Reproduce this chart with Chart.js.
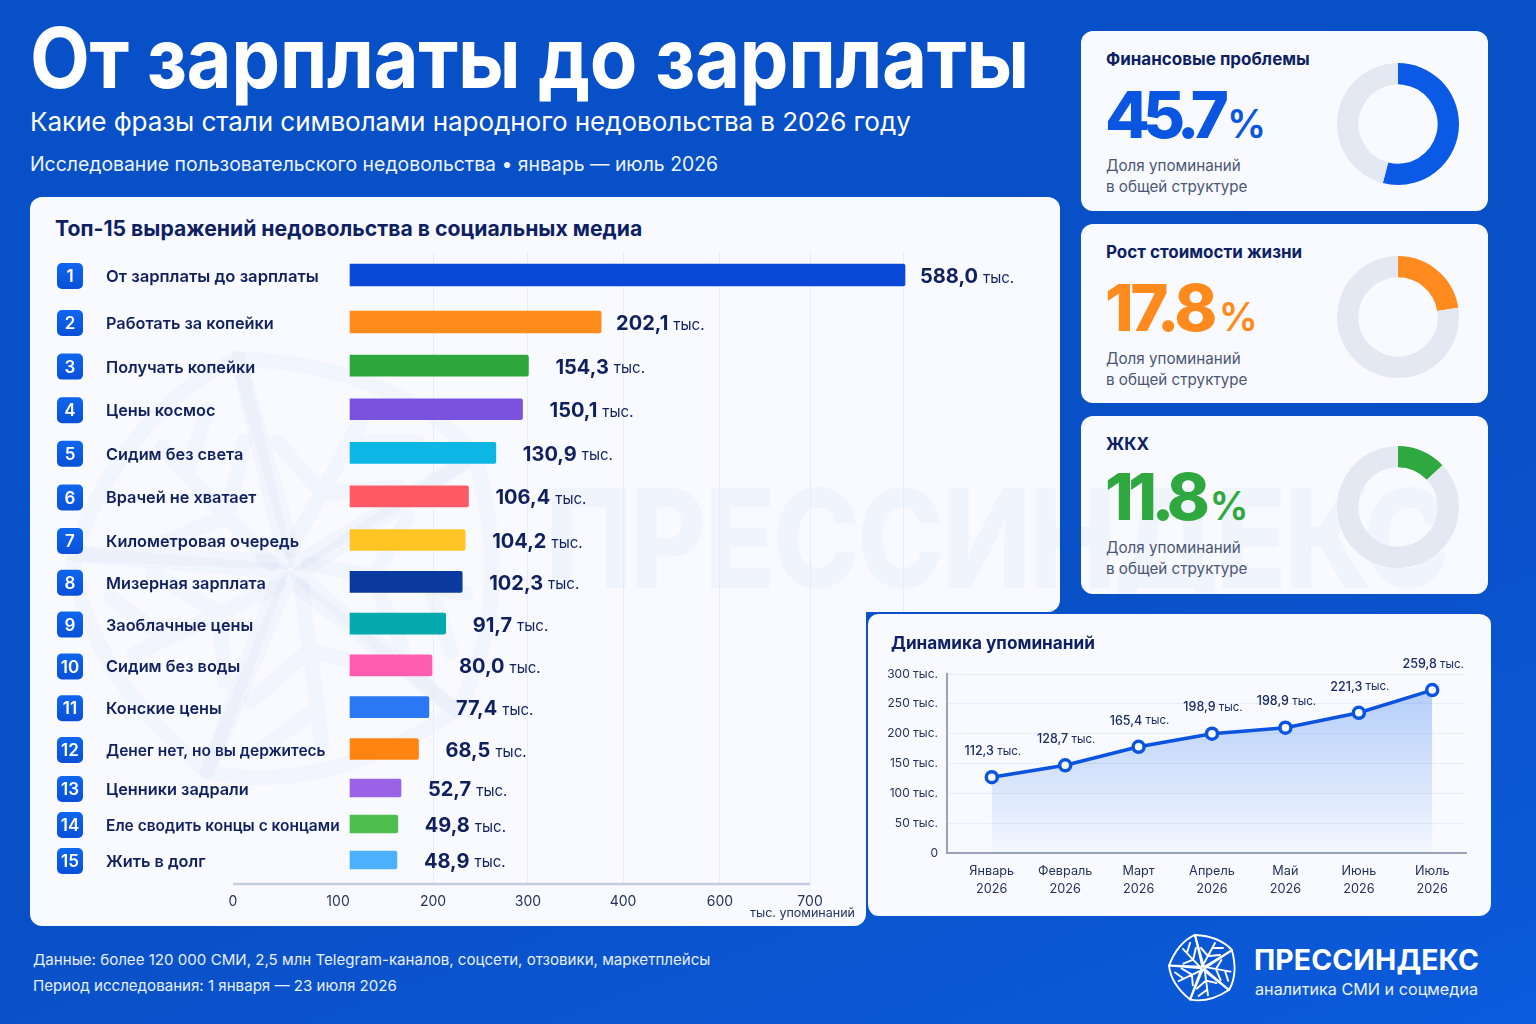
<!DOCTYPE html>
<html lang="ru">
<head>
<meta charset="utf-8">
<title>От зарплаты до зарплаты</title>
<script src="https://cdn.jsdelivr.net/npm/chart.js@4/dist/chart.umd.js"></script>
<style>
html, body { margin: 0; padding: 0; }
body { width: 1536px; height: 1024px; overflow: hidden; position: relative; font-family: Inter, "Noto Sans", sans-serif;
  background: linear-gradient(160deg, #0750c8 0%, #0950c6 60%, #0b5bdc 100%); }
.abs { position: absolute; white-space: nowrap; }
.card { position: absolute; background: #f8faff; border-radius: 12px; }
canvas { position: absolute; }
h1 { margin: 0; left: 30px; top: 6px; font-size: 84px; line-height: 104px; font-weight: 700; color: #fff; letter-spacing: -0.5px;
  transform: scaleX(.926); transform-origin: left center; }
.sub { left: 30px; top: 104px; font-size: 26.1px; line-height: 36px; color: #fff; letter-spacing: -0.1px; }
.sub2 { left: 30px; top: 151px; font-size: 19.4px; line-height: 26px; color: #eef4ff; }
.title { color: #0e1f63; font-weight: 700; }
.kpi-t { left: 1106px; font-size: 17px; line-height: 22px; font-weight: 700; color: #0e1f63; }
.kpi-v { left: 1105px; font-size: 65px; line-height: 70px; font-weight: 800; }
.kpi-v span { font-size: 39px; font-weight: 600; letter-spacing: 0; margin-left: 5px; }
.kpi-n { left: 1106px; font-size: 15.2px; line-height: 20.5px; color: #4b5675; }
.foot { left: 33px; font-size: 15.1px; line-height: 22px; color: #e6efff; }
.wm-text { left: 545px; top: 458px; font-size: 137px; line-height: 160px; font-weight: 800; color: rgba(20,80,200,.035);
  letter-spacing: -3px; transform: scaleX(.855); transform-origin: left center; }
</style>
</head>
<body>
<svg width="0" height="0" style="position:absolute">
  <defs>
    <g id="petal" fill="none" stroke-linecap="round" stroke-linejoin="round">
      <path d="M-8 -33 Q16 -32 29 -18 L1 -1 Z"/>
      <path d="M0 -3 L12 -25 M5 -12 L-2 -20 M6 -12 L17 -13 M10 -20 L20 -20"/>
    </g>
    <g id="logo">
      <use href="#petal"/>
      <use href="#petal" transform="rotate(72)"/>
      <use href="#petal" transform="rotate(144)"/>
      <use href="#petal" transform="rotate(216)"/>
      <use href="#petal" transform="rotate(288)"/>
    </g>
  </defs>
</svg>

<h1 class="abs">От зарплаты до зарплаты</h1>
<div class="abs sub">Какие фразы стали символами народного недовольства в 2026 году</div>
<div class="abs sub2">Исследование пользовательского недовольства • январь — июль 2026</div>

<div class="card" style="left:30px;top:197px;width:1030px;height:415px"></div>
<div class="card" style="left:30px;top:400px;width:836px;height:526px"></div>
<div class="card" style="left:1081px;top:31px;width:407px;height:180px"></div>
<div class="card" style="left:1081px;top:224px;width:407px;height:179px"></div>
<div class="card" style="left:1081px;top:416px;width:407px;height:178px"></div>

<svg class="abs" style="left:0;top:0" width="1536" height="1024">
  <use href="#logo" transform="translate(290 570) scale(6.4)" stroke="rgba(20,80,200,.028)" stroke-width="2.4"/>
</svg>
<div class="abs wm-text">ПРЕССИНДЕКС</div>

<div class="abs title" style="left:55px;top:214px;font-size:21.2px;line-height:28px">Топ-15 выражений недовольства в социальных медиа</div>
<canvas id="barChart" width="1030" height="686" style="left:30px;top:240px"></canvas>
<div class="abs" style="left:750px;top:905px;font-size:12.5px;line-height:16px;color:#26325c">тыс. упоминаний</div>

<div class="abs kpi-t" style="top:48px">Финансовые проблемы</div>
<div class="abs kpi-v" style="top:80px;color:#0a56e0;letter-spacing:-7px">45.7<span>%</span></div>
<div class="abs kpi-n" style="top:156px">Доля упоминаний<br>в общей структуре</div>
<canvas id="donut1" width="130" height="130" style="left:1333px;top:59px"></canvas>

<div class="abs kpi-t" style="top:241px">Рост стоимости жизни</div>
<div class="abs kpi-v" style="top:273px;color:#ff8a1e;letter-spacing:-3.5px">17.8<span>%</span></div>
<div class="abs kpi-n" style="top:349px">Доля упоминаний<br>в общей структуре</div>
<canvas id="donut2" width="130" height="130" style="left:1333px;top:252px"></canvas>

<div class="abs kpi-t" style="top:433px">ЖКХ</div>
<div class="abs kpi-v" style="top:462px;color:#2fa83f;letter-spacing:-5.5px">11.8<span>%</span></div>
<div class="abs kpi-n" style="top:538px">Доля упоминаний<br>в общей структуре</div>
<canvas id="donut3" width="130" height="130" style="left:1333px;top:442px"></canvas>

<div class="card" style="left:866px;top:612px;width:625px;height:304px;box-sizing:border-box;border:2px solid #0a50cf;border-right:0;border-bottom:0"></div>
<div class="abs title" style="left:891px;top:631px;font-size:17.2px;line-height:24px">Динамика упоминаний</div>
<canvas id="lineChart" width="624" height="303" style="left:867px;top:613px"></canvas>

<div class="abs foot" style="top:949px">Данные: более 120 000 СМИ, 2,5 млн Telegram-каналов, соцсети, отзовики, маркетплейсы</div>
<div class="abs foot" style="top:975px">Период исследования: 1 января — 23 июля 2026</div>

<svg class="abs" style="left:1160px;top:925px" width="86" height="86">
  <use href="#logo" transform="translate(43 43)" stroke="#fff" stroke-width="1.9"/>
</svg>
<div class="abs" style="left:1254px;top:942px;font-size:28.4px;line-height:36px;font-weight:700;color:#fff;letter-spacing:.1px">ПРЕССИНДЕКС</div>
<div class="abs" style="left:1255px;top:978px;font-size:16.2px;line-height:22px;color:#eaf2ff">аналитика СМИ и соцмедиа</div>

<script>
const phrases = ['От зарплаты до зарплаты', 'Работать за копейки', 'Получать копейки', 'Цены космос', 'Сидим без света',
  'Врачей не хватает', 'Километровая очередь', 'Мизерная зарплата', 'Заоблачные цены', 'Сидим без воды',
  'Конские цены', 'Денег нет, но вы держитесь', 'Ценники задрали', 'Еле сводить концы с концами', 'Жить в долг'];
const mentions = [588.0, 202.1, 154.3, 150.1, 130.9, 106.4, 104.2, 102.3, 91.7, 80.0, 77.4, 68.5, 52.7, 49.8, 48.9];
const barColors = ['#0a48d8', '#ff8c1a', '#2ea83c', '#7a52dd', '#0cb7e6', '#ff5a66', '#ffc524', '#0a3a9e',
  '#04a9ad', '#ff5cb0', '#2b78f5', '#ff8412', '#9b62e8', '#4cbf4f', '#4db0ff'];
const axisTicks = [0, 100, 200, 300, 400, 600, 700, 800];

const months = ['Январь', 'Февраль', 'Март', 'Апрель', 'Май', 'Июнь', 'Июль'];
const trendValues = [127, 147, 178, 200, 210, 235, 273];
const trendLabels = ['112,3', '128,7', '165,4', '198,9', '198,9', '221,3', '259,8'];

// drawn arc shares as they look in the picture, not the printed percentages
const shareFinance = [54, 46];
const shareLiving = [22.6, 77.4];
const shareHousing = [13, 87];

const navy = '#10205f';

// the axes of the reference are not linear, so both warped axes take stops [value, share of axis length]
function warp(stops, v) {
  for (let i = 1; i < stops.length; i++) {
    if (v <= stops[i][0] || i === stops.length - 1) {
      const a = stops[i - 1], b = stops[i];
      return a[1] + (v - a[0]) / (b[0] - a[0]) * (b[1] - a[1]);
    }
  }
}

class PiecewiseScale extends Chart.LinearScale {
  getPixelForValue(value) {
    return this.left + this.width * warp(this.options.stops, +value);
  }
}
PiecewiseScale.id = 'piecewise';
PiecewiseScale.defaults = Chart.LinearScale.defaults;

class RowScale extends Chart.CategoryScale {
  getPixelForValue(value) {
    const v = typeof value === 'number' ? value : this.parse(value);
    return this.top + this.height * warp(this.options.stops, v);
  }
}
RowScale.id = 'rows';
RowScale.defaults = Chart.CategoryScale.defaults;

Chart.register(PiecewiseScale, RowScale);

const barRows = {
  id: 'barRows',
  afterDatasetsDraw(chart) {
    const ctx = chart.ctx, y = chart.scales.y, x = chart.scales.x, x2 = chart.scales.x2;
    ctx.save();
    // axis line runs only between its first and last labelled tick
    ctx.strokeStyle = '#c6cde0';
    ctx.lineWidth = 2.5;
    ctx.beginPath();
    ctx.moveTo(x2.getPixelForValue(0), chart.chartArea.bottom);
    ctx.lineTo(x2.getPixelForValue(700), chart.chartArea.bottom);
    ctx.stroke();

    mentions.forEach((v, i) => {
      const py = y.getPixelForValue(i) + 1;
      // rank badge
      const grad = ctx.createLinearGradient(0, py - 13, 0, py + 13);
      grad.addColorStop(0, '#0f66ee');
      grad.addColorStop(1, '#0a50d8');
      ctx.fillStyle = grad;
      ctx.beginPath();
      ctx.roundRect(27, py - 13, 26, 26, 5);
      ctx.fill();
      ctx.fillStyle = '#fff';
      ctx.font = '600 17px Inter';
      ctx.textAlign = 'center';
      ctx.textBaseline = 'middle';
      ctx.fillText(String(i + 1), 40, py + 1);

      // value label next to the bar end
      const gap = i < 2 ? 15 : 27;
      const text = v.toFixed(1).replace('.', ',');
      const left = x.getPixelForValue(v) + gap;
      ctx.textAlign = 'left';
      ctx.fillStyle = navy;
      ctx.font = '700 20px Inter';
      ctx.fillText(text, left, py + 1);
      const w = ctx.measureText(text).width;
      ctx.font = '400 15px Inter';
      ctx.fillText('тыс.', left + w + 5, py + 2);
    });
    ctx.restore();
  }
};

function rowBars(from, to, thickness) {
  return {
    data: mentions.map((v, i) => (i >= from && i <= to ? v : null)),
    backgroundColor: barColors,
    borderRadius: 2,
    barThickness: thickness,
    grouped: false,
    xAxisID: 'x',
    yAxisID: 'y'
  };
}

new Chart(document.getElementById('barChart'), {
  type: 'bar',
  data: {
    labels: phrases,
    datasets: [rowBars(0, 1, 22), rowBars(2, 11, 21), rowBars(12, 14, 18)]
  },
  options: {
    indexAxis: 'y',
    responsive: false,
    animation: false,
    layout: { padding: { left: 76, right: 10, top: 12, bottom: 0 } },
    plugins: { legend: { display: false }, tooltip: { enabled: false } },
    scales: {
      x: {
        type: 'piecewise',
        display: false,
        min: 0,
        max: 700,
        stops: [[0, .2585], [50, .3093], [69, .3316], [80, .3453], [92, .3602], [106, .3835], [131, .4131], [154, .4470], [202, .5244], [588, .8464]]
      },
      x2: {
        type: 'piecewise',
        axis: 'x',
        position: 'bottom',
        min: 0,
        max: 800,
        stops: [[0, .1345], [100, .2458], [200, .3464], [300, .4470], [400, .5477], [600, .6504], [700, .7458], [800, .8443]],
        afterBuildTicks: s => { s.ticks = axisTicks.map(value => ({ value })); },
        afterFit: s => { s.height = 42; },
        border: { display: false },
        grid: {
          drawTicks: false,
          color: c => (c.tick && c.tick.value >= 200 ? '#e7ecf6' : 'transparent')
        },
        ticks: {
          autoSkip: false,
          maxRotation: 0,
          padding: 9,
          color: '#26325c',
          font: { family: 'Inter', size: 14 },
          callback: v => (v === 800 ? '' : String(v))
        }
      },
      y: {
        type: 'rows',
        stops: [[0, .0364], [1, .1108], [6, .4557], [11, .7864], [12, .8481], [14, .962]],
        border: { display: false },
        grid: { display: false, drawTicks: false },
        ticks: {
          mirror: true,
          autoSkip: false,
          padding: 0,
          labelOffset: 2,
          color: navy,
          // the two longest phrases are set tighter in the reference
          font: c => ({ family: 'Inter', size: c.index === 11 || c.index === 13 ? 15.5 : c.index === 0 ? 16.6 : 16.3, weight: '600' })
        }
      }
    }
  },
  plugins: [barRows]
});

function donut(id, values, color) {
  new Chart(document.getElementById(id), {
    type: 'doughnut',
    data: { datasets: [{ data: values, backgroundColor: [color, '#e3e8f2'], borderWidth: 0 }] },
    options: {
      responsive: false,
      animation: false,
      cutout: '65%',
      layout: { padding: 4 },
      plugins: { legend: { display: false }, tooltip: { enabled: false } }
    }
  });
}
donut('donut1', shareFinance, '#0a5ae6');
donut('donut2', shareLiving, '#ff8a1e');
donut('donut3', shareHousing, '#2fa83f');

const pointLabels = {
  id: 'pointLabels',
  afterDatasetsDraw(chart) {
    const ctx = chart.ctx;
    ctx.save();
    ctx.textBaseline = 'middle';
    ctx.textAlign = 'left';
    chart.getDatasetMeta(0).data.forEach((pt, i) => {
      ctx.font = '500 12.5px Inter';
      const w1 = ctx.measureText(trendLabels[i]).width;
      ctx.font = '400 11.5px Inter';
      const w2 = ctx.measureText(' тыс.').width;
      const left = pt.x - (w1 + w2) / 2 + 1;
      ctx.fillStyle = '#1b2a63';
      ctx.font = '500 12.5px Inter';
      ctx.fillText(trendLabels[i], left, pt.y - 26);
      ctx.font = '400 11.5px Inter';
      ctx.fillText(' тыс.', left + w1, pt.y - 26);
    });
    ctx.restore();
  }
};

new Chart(document.getElementById('lineChart'), {
  type: 'line',
  data: {
    datasets: [{
      data: trendValues.map((v, i) => ({ x: i, y: v })),
      borderColor: '#0a54e0',
      borderWidth: 3.5,
      tension: 0,
      pointRadius: 5.5,
      pointBorderWidth: 3.5,
      pointBackgroundColor: '#fff',
      pointBorderColor: '#0a54e0',
      fill: 'origin',
      backgroundColor: c => {
        const a = c.chart.chartArea;
        if (!a) return 'transparent';
        const g = c.chart.ctx.createLinearGradient(0, a.top + 15, 0, a.bottom);
        g.addColorStop(0, 'rgba(25,105,235,.30)');
        g.addColorStop(1, 'rgba(25,105,235,.02)');
        return g;
      }
    }]
  },
  options: {
    responsive: false,
    animation: false,
    layout: { padding: { left: 0, right: 25, top: 61, bottom: 0 } },
    plugins: { legend: { display: false }, tooltip: { enabled: false } },
    scales: {
      x: {
        type: 'linear',
        min: -0.61,
        max: 6.46,
        afterBuildTicks: s => { s.ticks = months.map((m, value) => ({ value })); },
        afterFit: s => { s.height = 63; },
        border: { color: '#9aa3ba', width: 2 },
        grid: { display: false, drawTicks: false },
        ticks: {
          autoSkip: false,
          maxRotation: 0,
          padding: 10,
          color: '#26325c',
          font: { family: 'Inter', size: 12.7, lineHeight: 1.35 },
          callback: v => [months[v], '2026']
        }
      },
      y: {
        min: 0,
        max: 300,
        afterFit: s => { s.width = 80; },
        border: { color: '#9aa3ba', width: 2 },
        grid: { color: '#e8eef8', drawTicks: false },
        ticks: {
          stepSize: 50,
          padding: 9,
          color: '#26325c',
          font: { family: 'Inter', size: 12 },
          callback: v => (v === 0 ? '0' : v + ' тыс.')
        }
      }
    }
  },
  plugins: [pointLabels]
});
</script>
</body>
</html>
